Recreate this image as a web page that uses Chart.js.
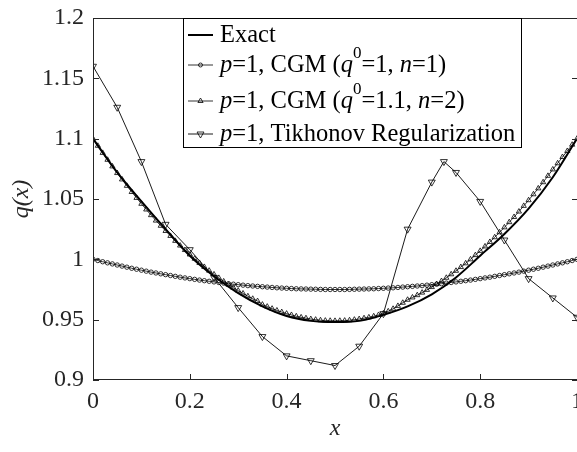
<!DOCTYPE html>
<html>
<head>
<meta charset="utf-8">
<script src="https://cdn.jsdelivr.net/npm/chart.js@4/dist/chart.umd.min.js"></script>
<style>
  html, body { margin: 0; padding: 0; background: #fff; }
  #wrap { width: 577px; height: 452px; }
</style>
</head>
<body>
<div id="wrap"><canvas id="c" width="577" height="452"></canvas></div>
<script>
// ---- data ----
// fine grid used by both CGM reconstructions
const xFine = [0,0.01,0.02,0.03,0.04,0.05,0.06,0.07,0.08,0.09,0.1,
  0.11,0.12,0.13,0.14,0.15,0.16,0.17,0.18,0.19,0.2,
  0.21,0.22,0.23,0.24,0.25,0.26,0.27,0.28,0.29,0.3,
  0.31,0.32,0.33,0.34,0.35,0.36,0.37,0.38,0.39,0.4,
  0.41,0.42,0.43,0.44,0.45,0.46,0.47,0.48,0.49,0.5,
  0.51,0.52,0.53,0.54,0.55,0.56,0.57,0.58,0.59,0.6,
  0.61,0.62,0.63,0.64,0.65,0.66,0.67,0.68,0.69,0.7,
  0.71,0.72,0.73,0.74,0.75,0.76,0.77,0.78,0.79,0.8,
  0.81,0.82,0.83,0.84,0.85,0.86,0.87,0.88,0.89,0.9,
  0.91,0.92,0.93,0.94,0.95,0.96,0.97,0.98,0.99,1];

// CGM, q0 = 1, n = 1
const cgmN1 = [1.0000,0.9990,0.9980,0.9971,0.9962,0.9953,0.9944,0.9935,0.9926,0.9918,0.9910,
  0.9902,0.9894,0.9887,0.9880,0.9873,0.9866,0.9859,0.9852,0.9846,0.9840,
  0.9834,0.9828,0.9823,0.9818,0.9813,0.9808,0.9803,0.9798,0.9794,0.9790,
  0.9786,0.9782,0.9779,0.9776,0.9773,0.9770,0.9767,0.9764,0.9762,0.9760,
  0.9758,0.9756,0.9755,0.9754,0.9753,0.9752,0.9751,0.9750,0.9750,0.9750,
  0.9750,0.9750,0.9751,0.9752,0.9753,0.9754,0.9755,0.9756,0.9758,0.9760,
  0.9762,0.9764,0.9767,0.9770,0.9773,0.9776,0.9779,0.9782,0.9786,0.9790,
  0.9794,0.9798,0.9803,0.9808,0.9813,0.9818,0.9823,0.9828,0.9834,0.9840,
  0.9846,0.9852,0.9859,0.9866,0.9873,0.9880,0.9887,0.9894,0.9902,0.9910,
  0.9918,0.9926,0.9935,0.9944,0.9953,0.9962,0.9971,0.9980,0.9990,1.0000];

// CGM, q0 = 1.1, n = 2
const cgmN2 = [1.1000,1.0941,1.0882,1.0825,1.0770,1.0715,1.0662,1.0609,1.0558,1.0509,1.0460,
  1.0413,1.0366,1.0321,1.0278,1.0235,1.0194,1.0153,1.0114,1.0077,1.0040,
  1.0005,0.9970,0.9937,0.9906,0.9875,0.9846,0.9817,0.9790,0.9765,0.9740,
  0.9717,0.9694,0.9673,0.9654,0.9625,0.9608,0.9591,0.9576,0.9563,0.9550,
  0.9539,0.9528,0.9519,0.9512,0.9505,0.9500,0.9495,0.9492,0.9491,0.9490,
  0.9491,0.9492,0.9495,0.9500,0.9505,0.9512,0.9519,0.9528,0.9539,0.9552,
  0.9569,0.9590,0.9614,0.9640,0.9665,0.9684,0.9703,0.9724,0.9747,0.9770,
  0.9795,0.9820,0.9847,0.9876,0.9905,0.9936,0.9967,1.0000,1.0035,1.0070,
  1.0107,1.0144,1.0183,1.0224,1.0265,1.0308,1.0351,1.0396,1.0443,1.0490,
  1.0539,1.0588,1.0639,1.0692,1.0745,1.0796,1.0848,1.0898,1.0950,1.1000];

// exact profile
const xExact = [0,0.05,0.1,0.15,0.2,0.25,0.3,0.35,0.4,0.45,0.5,0.55,0.6,0.65,0.7,0.75,0.8,0.85,0.9,0.95,1];
const qExact = [1.100,1.072,1.048,1.025,1.003,0.986,0.972,0.961,0.953,0.949,0.948,0.949,0.954,0.961,0.971,0.985,1.003,1.021,1.042,1.068,1.100];

// Tikhonov regularization
const xTik = [0,0.05,0.1,0.15,0.2,0.25,0.3,0.35,0.4,0.45,0.5,0.55,0.6,0.65,0.7,0.725,0.75,0.8,0.85,0.9,0.95,1];
const qTik = [1.160,1.126,1.081,1.029,1.008,0.985,0.960,0.936,0.920,0.916,0.912,0.928,0.955,1.025,1.064,1.081,1.072,1.048,1.016,0.984,0.968,0.952];

// axis tick labels
const xTickLabels = ['0','0.2','0.4','0.6','0.8','1'];
const yTickLabels = ['0.9','0.95','1','1.05','1.1','1.15','1.2'];

// ---- styling ----
const FONT = '"Liberation Serif", "Times New Roman", serif';
const INK = '#262626';

const pts = (xs, ys) => xs.map((x, i) => ({ x: x, y: ys[i] }));

// legend rows: line sample style + rich text pieces
const legendRows = [
  { width: 2, style: null, parts: [{ t: 'Exact' }] },
  { width: 0.8, style: 'circle', radius: 2, rot: 0,
    parts: [{ t: 'p', i: 1 }, { t: '=1, CGM (' }, { t: 'q', i: 1 }, { t: '0', sup: 1 }, { t: '=1, ' }, { t: 'n', i: 1 }, { t: '=1)' }] },
  { width: 0.8, style: 'triangle', radius: 3, rot: 0,
    parts: [{ t: 'p', i: 1 }, { t: '=1, CGM (' }, { t: 'q', i: 1 }, { t: '0', sup: 1 }, { t: '=1.1, ' }, { t: 'n', i: 1 }, { t: '=2)' }] },
  { width: 0.9, style: 'triangle', radius: 4, rot: 180,
    parts: [{ t: 'p', i: 1 }, { t: '=1, Tikhonov Regularization' }] }
];

const frame = {
  id: 'frame',
  afterDatasetsDraw(chart) {
    const { ctx, chartArea: a, scales: { x, y } } = chart;
    ctx.save();
    ctx.strokeStyle = INK;
    ctx.lineWidth = 1;
    ctx.beginPath();
    ctx.moveTo(a.left + 0.5, a.top + 0.5); ctx.lineTo(a.right + 1, a.top + 0.5);
    ctx.moveTo(a.left + 0.5, a.top); ctx.lineTo(a.left + 0.5, a.bottom);
    ctx.moveTo(a.left, a.bottom - 0.5); ctx.lineTo(a.right + 1, a.bottom - 0.5);
    x.ticks.forEach(t => {
      const px = Math.round(x.getPixelForValue(t.value)) + 0.5;
      ctx.moveTo(px, a.bottom); ctx.lineTo(px, a.bottom - 6);
      ctx.moveTo(px, a.top); ctx.lineTo(px, a.top + 6);
    });
    y.ticks.forEach(t => {
      const py = Math.round(y.getPixelForValue(t.value)) + 0.5;
      ctx.moveTo(a.left, py); ctx.lineTo(a.left + 6, py);
      ctx.moveTo(a.right + 1, py); ctx.lineTo(a.right - 5, py);
    });
    ctx.stroke();

    // x tick labels (placed at the scale's tick pixels; the last one runs off the edge)
    ctx.fillStyle = INK;
    ctx.font = '24px ' + FONT;
    ctx.textAlign = 'center';
    ctx.textBaseline = 'top';
    x.ticks.forEach((t, i) => {
      ctx.fillText(xTickLabels[i], x.getPixelForValue(t.value), a.bottom + 10);
    });

    // legend box
    const bx = 183.5, by = a.top + 0.5, bw = 338, bh = 129;
    ctx.fillStyle = '#fff';
    ctx.fillRect(bx, by, bw, bh);
    ctx.strokeStyle = '#000';
    ctx.lineWidth = 1;
    ctx.strokeRect(bx, by, bw, bh);

    const baselines = [42, 72, 108, 141];
    legendRows.forEach((row, k) => {
      const base = baselines[k];
      const ly = base - 7;
      ctx.strokeStyle = '#000';
      ctx.lineWidth = row.width;
      ctx.beginPath();
      ctx.moveTo(188, ly); ctx.lineTo(213, ly);
      ctx.stroke();
      if (row.style) {
        ctx.fillStyle = 'rgba(0,0,0,0)';
        ctx.lineWidth = 0.8;
        Chart.helpers.drawPoint(ctx, { pointStyle: row.style, rotation: row.rot, radius: row.radius, borderWidth: 0.8 }, 200.5, ly);
      }
      let tx = 220;
      ctx.fillStyle = '#000';
      ctx.textBaseline = 'alphabetic';
      ctx.textAlign = 'left';
      row.parts.forEach(p => {
        const size = p.sup ? 17 : 24.5;
        ctx.font = (p.i ? 'italic ' : '') + size + 'px ' + FONT;
        ctx.fillText(p.t, tx, p.sup ? base - 14 : base);
        tx += ctx.measureText(p.t).width;
      });
    });
    ctx.restore();
  }
};

const lineSet = (label, data, extra) => Object.assign({
  label: label,
  data: data,
  showLine: true,
  borderColor: '#000',
  backgroundColor: 'rgba(0,0,0,0)',
  pointBackgroundColor: 'rgba(0,0,0,0)',
  pointBorderColor: '#000',
  pointBorderWidth: 0.8,
  fill: false
}, extra);

new Chart(document.getElementById('c'), {
  type: 'scatter',
  data: {
    datasets: [
      lineSet('Tikhonov Regularization', pts(xTik, qTik), {
        borderWidth: 0.9, pointStyle: 'triangle', pointRotation: 180, pointRadius: 4, order: 1 }),
      lineSet('CGM (q0=1.1, n=2)', pts(xFine, cgmN2), {
        borderWidth: 0.8, pointStyle: 'triangle', pointRadius: 3, order: 2 }),
      lineSet('CGM (q0=1, n=1)', pts(xFine, cgmN1), {
        borderWidth: 0.8, pointStyle: 'circle', pointRadius: 2.2, order: 3 }),
      lineSet('Exact', pts(xExact, qExact), {
        borderWidth: 2, pointRadius: 0, cubicInterpolationMode: 'monotone', order: 4 })
    ]
  },
  options: {
    responsive: false,
    animation: false,
    devicePixelRatio: 1,
    events: [],
    layout: { autoPadding: false, padding: { left: 7, top: 18, right: 0, bottom: 9 } },
    plugins: { legend: { display: false }, tooltip: { enabled: false } },
    scales: {
      x: {
        type: 'linear', min: 0, max: 1,
        grid: { display: false, drawTicks: false },
        border: { display: false },
        ticks: { stepSize: 0.2, display: false },
        title: { display: true, text: 'x', color: INK, padding: 0,
          font: { family: FONT, size: 24, style: 'italic' } },
        afterFit(s) { s.height = 63; s.paddingLeft = 0; s.paddingRight = 0; }
      },
      y: {
        type: 'linear', min: 0.9, max: 1.2,
        grid: { display: false, drawTicks: false },
        border: { display: false },
        ticks: {
          stepSize: 0.05, padding: 9, color: INK,
          font: { family: FONT, size: 24 },
          callback: (v) => yTickLabels[Math.round((v - 0.9) / 0.05)]
        },
        title: { display: true, text: 'q(x)', color: INK, padding: 0,
          font: { family: FONT, size: 24, style: 'italic' } },
        afterFit(s) { s.width = 86; s.paddingTop = 0; s.paddingBottom = 0; }
      }
    }
  },
  plugins: [frame]
});
</script>
</body>
</html>
